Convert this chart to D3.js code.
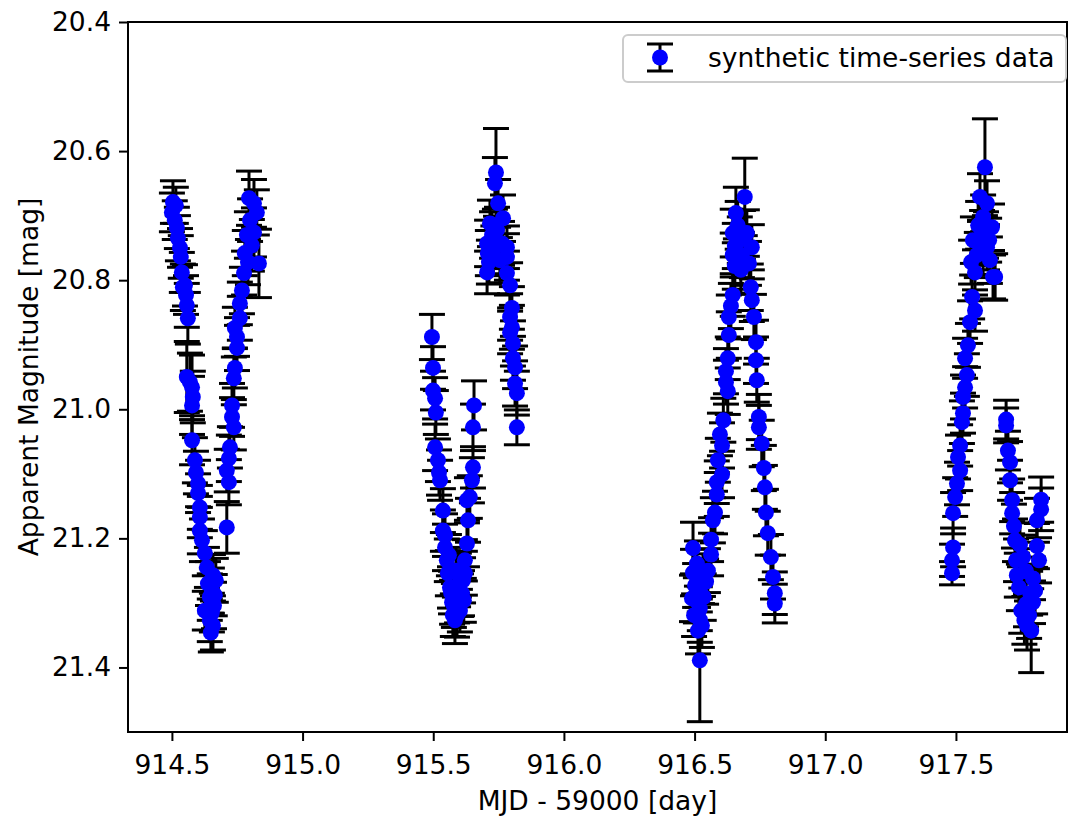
<!DOCTYPE html>
<html>
<head>
<meta charset="utf-8">
<title>Synthetic light curve</title>
<script src="https://cdn.jsdelivr.net/npm/d3@7"></script>
<style>
  body { margin: 0; background: #fff; }
  svg text { font-family: "DejaVu Sans", sans-serif; fill: #000; }
</style>
</head>
<body>
<div id="chart"></div>
<script>
// Observations, one block per night: time (MJD - 59000), magnitude, 1-sigma error
const night1Time = [914.500,914.504,914.511,914.515,914.519,914.523,914.531,914.534,914.538,914.542,
  914.550,914.554,914.557,914.561,914.557,914.569,914.577,914.580,914.577,914.577,
  914.588,914.592,914.600,914.600,914.607,914.607,914.607,914.615,914.626,914.634,
  914.638,914.645,914.626,914.645,914.657,914.653,914.661,914.657,914.653,914.668,
  914.649,914.664,
  914.710,914.718,914.710,914.718,914.722,914.737,914.730,914.730,914.737,914.741,
  914.749,914.749,914.741,914.760,914.760,914.768,914.776,914.779,914.833,914.787,
  914.814,914.799,914.825,914.795,914.814,914.806,914.791];
const night1Mag = [20.695,20.679,20.707,20.684,20.719,20.735,20.750,20.764,20.788,20.811,
  20.808,20.823,20.839,20.859,20.950,20.958,20.966,20.981,20.994,21.048,
  21.079,21.098,21.115,21.130,21.152,21.167,21.188,21.203,21.223,21.245,
  21.270,21.291,21.312,21.327,21.257,21.281,21.304,21.335,21.315,21.265,
  21.346,21.288,
  21.183,21.113,21.095,21.076,21.059,21.028,21.012,20.994,20.952,20.936,
  20.905,20.888,20.874,20.859,20.836,20.816,20.789,20.758,20.774,20.730,
  20.726,20.707,20.695,20.673,20.681,20.746,20.772];
const night1Err = [.030,.033,.030,.028,.032,.035,.030,.033,.031,.036,
  .032,.030,.034,.040,.055,.045,.050,.040,.045,.038,
  .035,.033,.036,.030,.034,.032,.036,.033,.035,.031,
  .034,.036,.030,.033,.032,.035,.036,.038,.030,.034,
  .030,.032,
  .040,.035,.033,.036,.032,.035,.030,.034,.033,.031,
  .035,.030,.032,.034,.033,.036,.034,.035,.053,.036,
  .038,.033,.035,.042,.037,.040,.035];

const night2Time = [915.495,915.499,915.499,915.507,915.510,915.507,915.518,915.522,915.526,915.537,
  915.537,915.545,915.552,915.556,915.564,915.572,915.575,915.583,915.602,915.610,
  915.621,915.621,915.629,915.633,915.640,915.648,915.652,915.652,915.656,915.568,
  915.579,915.591,915.595,915.587,915.598,915.606,915.614,915.591,915.560,915.617,
  915.545,915.629,
  915.706,915.709,915.706,915.717,915.736,915.740,915.748,915.744,
  915.767,915.763,915.782,915.782,915.782,915.794,915.801,915.794,915.801,915.794,
  915.805,915.805,915.813,915.813,915.820,915.820,915.725,915.755,915.713,915.730];
const night2Mag = [20.888,20.936,20.971,20.983,21.005,21.059,21.079,21.098,21.110,21.157,
  21.188,21.214,21.234,21.254,21.276,21.299,21.319,21.327,21.312,21.285,
  21.254,21.234,21.208,21.172,21.136,21.110,21.090,21.028,20.994,21.284,
  21.304,21.296,21.273,21.250,21.257,21.288,21.265,21.319,21.226,21.296,
  21.195,21.141,
  20.743,20.758,20.788,20.712,20.650,20.633,20.681,20.722,
  20.704,20.743,20.749,20.764,20.789,20.808,20.843,20.857,20.873,20.881,
  20.898,20.921,20.935,20.960,20.975,21.028,20.730,20.769,20.772,20.753];
const night2Err = [.035,.033,.030,.032,.034,.036,.033,.035,.031,.034,
  .032,.036,.033,.035,.032,.034,.033,.036,.033,.035,
  .034,.032,.036,.034,.033,.035,.032,.036,.038,.033,
  .034,.035,.033,.036,.034,.033,.035,.034,.032,.034,
  .033,.035,
  .036,.035,.033,.036,.040,.068,.037,.035,
  .036,.034,.033,.036,.034,.035,.033,.036,.034,.033,
  .035,.034,.033,.035,.034,.027,.036,.035,.034,.037];

const night3Time = [916.494,916.509,916.494,916.551,916.544,916.520,916.535,916.520,916.520,916.520,
  916.505,916.498,916.513,916.528,916.502,916.490,916.532,916.563,916.563,916.570,
  916.578,916.585,916.585,916.605,916.589,916.605,916.597,916.627,916.620,916.620,
  916.627,916.631,916.631,916.639,916.646,916.654,916.646,916.654,916.646,916.658,
  916.610,
  916.692,916.700,916.719,916.708,916.715,916.719,916.727,916.735,916.735,916.738,
  916.746,916.746,916.757,916.765,916.769,916.773,916.780,916.792,916.800,916.807,
  916.807,916.665,916.673,916.681,916.677,916.685];
const night3Mag = [21.215,21.239,21.253,21.250,21.267,21.281,21.291,21.309,21.326,21.389,
  21.296,21.319,21.343,21.335,21.273,21.293,21.257,21.202,21.225,21.172,
  21.160,21.132,21.113,21.101,21.079,21.056,21.039,20.972,20.958,20.941,
  20.921,20.885,20.857,20.840,20.823,20.778,20.761,20.747,20.727,20.696,
  21.017,
  20.671,20.727,20.749,20.774,20.811,20.831,20.857,20.896,20.924,20.955,
  21.012,21.028,21.053,21.091,21.121,21.160,21.192,21.229,21.260,21.285,
  21.301,20.715,20.738,20.761,20.784,20.730];
const night3Err = [.040,.035,.036,.034,.035,.033,.036,.034,.035,.095,
  .035,.033,.036,.034,.034,.036,.033,.034,.033,.035,
  .033,.034,.033,.036,.034,.035,.033,.036,.034,.035,
  .033,.036,.034,.035,.033,.036,.034,.035,.037,.040,
  .034,
  .060,.036,.035,.034,.036,.033,.035,.034,.036,.034,
  .035,.034,.036,.035,.034,.036,.034,.035,.034,.033,
  .030,.037,.036,.035,.036,.038];

const night4Time = [917.485,917.485,917.489,917.489,917.497,917.504,917.516,917.508,917.516,917.523,
  917.527,917.527,917.535,917.542,917.535,917.546,917.554,917.573,917.562,917.573,
  917.565,917.592,917.619,917.604,917.630,917.642,917.592,917.619,917.604,917.638,
  917.611,917.650,917.585,917.600,917.615,917.627,917.580,917.558,
  917.692,917.692,917.699,917.707,917.707,917.715,917.715,917.722,917.726,917.757,
  917.768,917.795,917.741,917.784,917.768,917.795,917.826,917.826,917.810,917.810,
  917.780,917.772,917.788,917.750,917.733,917.818,917.803,917.762,917.730,917.745];
const night4Mag = [21.254,21.234,21.214,21.161,21.136,21.115,21.095,21.074,21.056,21.020,
  21.006,20.981,20.966,20.947,20.921,20.901,20.865,20.847,20.826,20.788,
  20.738,20.743,20.749,20.758,20.769,20.795,20.671,20.681,20.702,20.718,
  20.625,20.795,20.715,20.727,20.730,20.738,20.761,20.772,
  21.025,21.016,21.064,21.082,21.110,21.141,21.161,21.181,21.203,21.229,
  21.251,21.262,21.276,21.285,21.302,21.299,21.140,21.155,21.172,21.212,
  21.319,21.335,21.343,21.312,21.257,21.234,21.281,21.327,21.234,21.210];
const night4Err = [.018,.025,.030,.032,.030,.033,.031,.034,.032,.033,
  .031,.034,.032,.033,.031,.034,.033,.032,.034,.035,
  .036,.034,.035,.033,.036,.034,.036,.035,.034,.036,
  .075,.036,.037,.035,.036,.034,.035,.034,
  .027,.030,.030,.032,.031,.033,.032,.034,.033,.034,
  .035,.033,.036,.034,.035,.033,.035,.033,.034,.035,
  .036,.038,.065,.035,.034,.035,.036,.037,.033,.034];

// Axis ticks
const xTicks = [914.5, 915.0, 915.5, 916.0, 916.5, 917.0, 917.5];
const yTicks = [20.4, 20.6, 20.8, 21.0, 21.2, 21.4];

// Flatten nights into one list of points
const nights = [
  [night1Time, night1Mag, night1Err],
  [night2Time, night2Mag, night2Err],
  [night3Time, night3Mag, night3Err],
  [night4Time, night4Mag, night4Err]
];
const points = [];
nights.forEach(([t, m, e]) => {
  t.forEach((d, i) => points.push({ t: d, mag: m[i], err: e[i] }));
});

// Set up the SVG container
const margin = { top: 22, right: 4, bottom: 85, left: 128 };
const width = 1071 - margin.left - margin.right;
const height = 817 - margin.top - margin.bottom;
const fontSize = 26.5;
const capHalf = 13;
const markerR = 8;

const svg = d3.select('#chart')
  .append('svg')
  .attr('width', 1071)
  .attr('height', 817)
  .append('g')
  .attr('transform', `translate(${margin.left}, ${margin.top})`);

// Scales: magnitude axis runs downward (fainter at the bottom)
const x = d3.scaleLinear().domain([914.332, 917.925]).range([0, width]);
const y = d3.scaleLinear().domain([20.4, 21.5]).range([0, height]);

// Axes
const xAxis = svg.append('g')
  .attr('transform', `translate(0, ${height})`)
  .call(d3.axisBottom(x).tickValues(xTicks).tickFormat(d3.format('.1f'))
    .tickSize(9).tickSizeOuter(0).tickPadding(8));

const yAxis = svg.append('g')
  .call(d3.axisLeft(y).tickValues(yTicks).tickFormat(d3.format('.1f'))
    .tickSize(9).tickSizeOuter(0).tickPadding(8));

[xAxis, yAxis].forEach(a => {
  a.select('.domain').remove();
  a.selectAll('line').attr('stroke', '#000').attr('stroke-width', 2);
  a.selectAll('text')
    .style('font-size', fontSize + 'px')
    .style('font-family', '"DejaVu Sans", sans-serif')
    .attr('fill', '#000');
});
xAxis.selectAll('text').attr('dy', '0.95em');

// Error bars (vertical line + two caps)
const bars = svg.append('g').attr('class', 'errorbars');
points.forEach(p => {
  const cx = x(p.t);
  const y1 = y(p.mag - p.err);
  const y2 = y(p.mag + p.err);
  bars.append('line')
    .attr('x1', cx).attr('x2', cx).attr('y1', y1).attr('y2', y2)
    .attr('stroke', '#000').attr('stroke-width', 3);
  [y1, y2].forEach(yy => {
    bars.append('line')
      .attr('x1', cx - capHalf).attr('x2', cx + capHalf)
      .attr('y1', yy).attr('y2', yy)
      .attr('stroke', '#000').attr('stroke-width', 3);
  });
});

// Markers
svg.append('g')
  .selectAll('circle')
  .data(points)
  .enter()
  .append('circle')
  .attr('cx', d => x(d.t))
  .attr('cy', d => y(d.mag))
  .attr('r', markerR)
  .attr('fill', '#0000ff');

// Frame around the plot area
svg.append('rect')
  .attr('x', 0).attr('y', 0)
  .attr('width', width).attr('height', height)
  .attr('fill', 'none')
  .attr('stroke', '#000')
  .attr('stroke-width', 2);

// Axis titles
svg.append('text')
  .attr('x', width / 2)
  .attr('y', height + 78)
  .attr('text-anchor', 'middle')
  .style('font-size', fontSize + 'px')
  .text('MJD - 59000 [day]');

svg.append('text')
  .attr('transform', `translate(${38 - margin.left}, ${height / 2}) rotate(-90)`)
  .attr('text-anchor', 'middle')
  .style('font-size', fontSize + 'px')
  .text('Apparent Magnitude [mag]');

// Legend (upper right)
const legend = svg.append('g')
  .attr('transform', `translate(${width - 444}, 13)`);

legend.append('rect')
  .attr('width', 443).attr('height', 47)
  .attr('rx', 5)
  .attr('fill', '#fff').attr('fill-opacity', 0.8)
  .attr('stroke', '#ccc').attr('stroke-width', 2);

legend.append('line')
  .attr('x1', 37).attr('x2', 37).attr('y1', 9).attr('y2', 36)
  .attr('stroke', '#000').attr('stroke-width', 3);
[9, 36].forEach(yy => {
  legend.append('line')
    .attr('x1', 37 - capHalf).attr('x2', 37 + capHalf)
    .attr('y1', yy).attr('y2', yy)
    .attr('stroke', '#000').attr('stroke-width', 3);
});
legend.append('circle')
  .attr('cx', 37).attr('cy', 22.5).attr('r', markerR)
  .attr('fill', '#0000ff');

legend.append('text')
  .attr('x', 85)
  .attr('y', 32)
  .style('font-size', fontSize + 'px')
  .text('synthetic time-series data');
</script>
</body>
</html>
